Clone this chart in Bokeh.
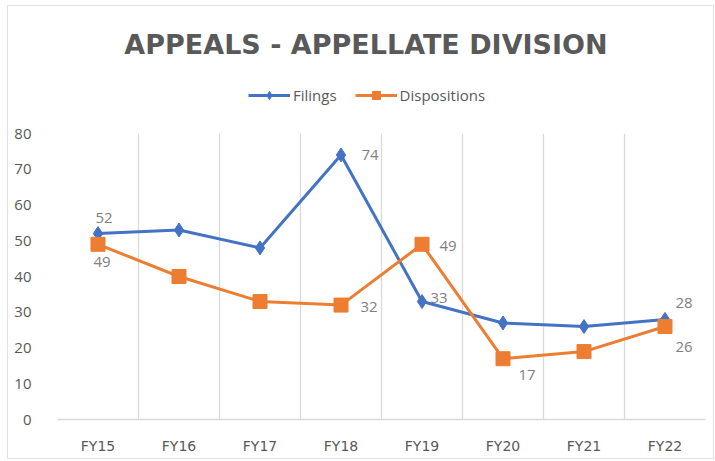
from bokeh.plotting import figure
from bokeh.layouts import column
from bokeh.core.properties import value
from bokeh.models import (ColumnDataSource, FactorRange, FixedTicker, Label, LabelSet,
                          Legend, LegendItem)
from bokeh.embed import file_html
from bokeh.resources import INLINE

# ---- data ----
categories = ["FY15", "FY16", "FY17", "FY18", "FY19", "FY20", "FY21", "FY22"]
filings = [52, 53, 48, 74, 33, 27, 26, 28]
dispositions = [49, 40, 33, 32, 49, 17, 19, 26]
y_ticks = [0, 10, 20, 30, 40, 50, 60, 70, 80]
series_names = ["Filings", "Dispositions"]
title_text = "APPEALS - APPELLATE DIVISION"

# which points carry a data label (indices) and how they are nudged (style)
fil_label_idx = [0, 3, 4, 7]
fil_label_dx = [6, 29, 17, 19]
fil_label_dy = [16, 0, 4, 16]
dis_label_idx = [0, 3, 4, 5, 7]
dis_label_dx = [4, 28, 26, 24, 19]
dis_label_dy = [-18, -2, -2, -16, -20]

BLUE = "#4472C4"
ORANGE = "#ED7D31"
TXT = "#595959"
GRID = "#D9D9D9"
FONT = "Open Sans"
W = 705
MB_L, MB_R = 49, 8
FRAME_W = W - MB_L - MB_R

src = ColumnDataSource(dict(cat=categories, fil=filings, dis=dispositions))

# ---------------- header (title + legend) ----------------
TOP_H = 117
head = figure(width=W, height=TOP_H, x_range=(0, FRAME_W), y_range=(0, TOP_H),
              x_axis_type=None, y_axis_type=None, output_backend="svg",
              toolbar_location=None, min_border=0,
              min_border_left=MB_L, min_border_right=MB_R)
head.outline_line_color = None
head.grid.grid_line_color = None

head.add_layout(Label(x=308.5, y=79, text=title_text, text_align="center",
                      text_baseline="middle", text_font="DejaVu Sans",
                      text_font_style="bold", text_font_size="27px", text_color=TXT))

# legend proxies: same series source, categorical x is not drawn on this numeric header
hl1 = head.line("cat", "fil", source=src, line_color=BLUE, line_width=3)
hm1 = head.scatter("cat", "fil", source=src, marker="diamond", size=12,
                   fill_color=BLUE, line_color=BLUE)
hl2 = head.line("cat", "dis", source=src, line_color=ORANGE, line_width=3)
hm2 = head.scatter("cat", "dis", source=src, marker="square", size=13,
                   fill_color=ORANGE, line_color=ORANGE)
legend = Legend(items=[LegendItem(label=series_names[0], renderers=[hl1, hm1]),
                       LegendItem(label=series_names[1], renderers=[hl2, hm2])],
                location=(191, 18), orientation="horizontal",
                glyph_width=42, glyph_height=20, label_height=20, label_standoff=3,
                spacing=18, padding=0, margin=0,
                label_text_font=FONT, label_text_font_size="15px", label_text_color=TXT,
                border_line_color=None, background_fill_alpha=0)
head.add_layout(legend)

# ---------------- main chart ----------------
p = figure(width=W, height=335, x_range=FactorRange(*categories), y_range=(0, 80),
           output_backend="svg", toolbar_location=None,
           min_border_left=MB_L, min_border_right=MB_R, min_border_top=10, min_border_bottom=39)
p.outline_line_color = None
p.background_fill_color = "white"

p.ygrid.grid_line_color = None
p.xgrid.ticker = FixedTicker(ticks=list(range(len(categories) + 1)))
p.xgrid.grid_line_color = GRID
p.xgrid.grid_line_width = 1.3

p.yaxis.ticker = FixedTicker(ticks=y_ticks)
p.yaxis.axis_line_color = None
p.yaxis.major_tick_line_color = None
p.yaxis.minor_tick_line_color = None
p.yaxis.major_label_standoff = 20
p.yaxis.major_label_text_font = FONT
p.yaxis.major_label_text_font_size = "15px"
p.yaxis.major_label_text_color = TXT

p.xaxis.axis_line_color = GRID
p.xaxis.axis_line_width = 1.3
p.xaxis.major_tick_line_color = None
p.xaxis.minor_tick_line_color = None
p.xaxis.major_label_standoff = 12
p.xaxis.major_label_text_font = "DejaVu Sans"
p.xaxis.major_label_text_font_size = "14px"
p.xaxis.major_label_text_color = TXT

p.line("cat", "fil", source=src, line_color=BLUE, line_width=3)
p.scatter("cat", "fil", source=src, marker="diamond", size=14, fill_color=BLUE, line_color=BLUE)
p.line("cat", "dis", source=src, line_color=ORANGE, line_width=3)
p.scatter("cat", "dis", source=src, marker="square", size=14, fill_color=ORANGE, line_color=ORANGE)

fil_lab = ColumnDataSource(dict(
    x=[categories[i] for i in fil_label_idx],
    y=[filings[i] for i in fil_label_idx],
    t=[str(filings[i]) for i in fil_label_idx],
    dx=fil_label_dx, dy=fil_label_dy))
dis_lab = ColumnDataSource(dict(
    x=[categories[i] for i in dis_label_idx],
    y=[dispositions[i] for i in dis_label_idx],
    t=[str(dispositions[i]) for i in dis_label_idx],
    dx=dis_label_dx, dy=dis_label_dy))
for s in (fil_lab, dis_lab):
    p.add_layout(LabelSet(x="x", y="y", text="t", source=s, x_offset="dx", y_offset="dy",
                          text_align="center", text_baseline="middle",
                          text_font=value(FONT), text_font_size="15px", text_color="#808080"))

page = column(head, p, spacing=0,
              styles={"border": "1px solid #E0E0E0", "margin-left": "7px", "margin-top": "5px"})

open("out.html", "w").write(file_html(page, INLINE))
